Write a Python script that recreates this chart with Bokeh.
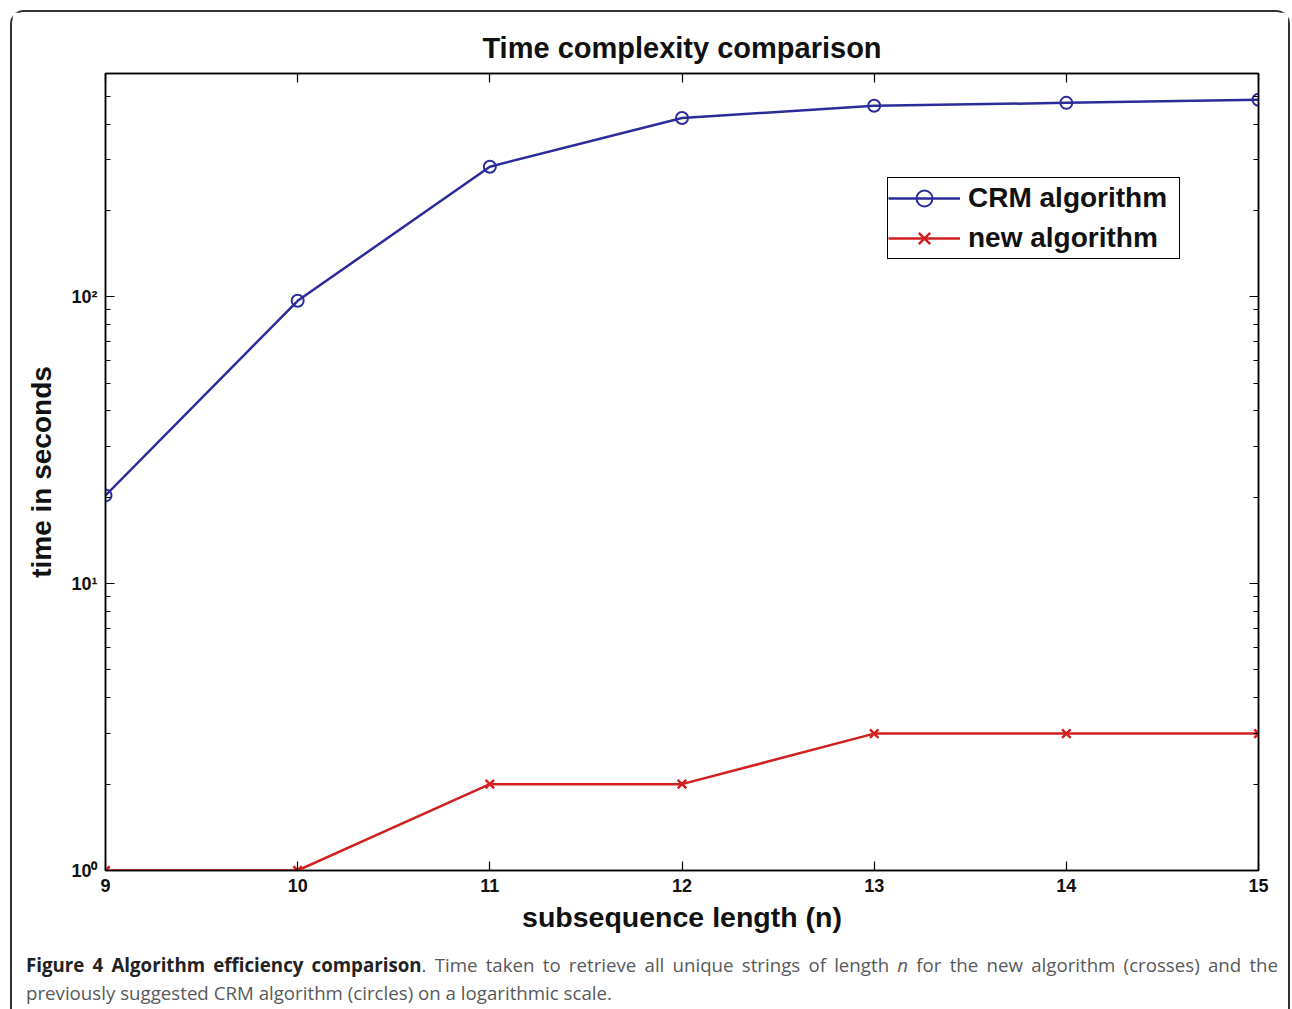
from bokeh.plotting import figure
from bokeh.models import (Range1d, FixedTicker, LogAxis, LinearAxis, CustomJSTickFormatter,
                          Legend, LegendItem, Div)
from bokeh.layouts import column
from bokeh.embed import file_html
from bokeh.resources import INLINE

# ---- data ----
n_values = [9, 10, 11, 12, 13, 14, 15]
crm_times = [20.3, 96.8, 284, 420, 463, 474, 486]
new_times = [1, 1, 2, 2, 3, 3, 3]
x_ticks = [9, 10, 11, 12, 13, 14, 15]
y_major_ticks = [1, 10, 100]
y_minor_ticks = [2, 3, 4, 5, 6, 7, 8, 9, 20, 30, 40, 50, 60, 70, 80, 90, 200, 300, 400, 500, 600]

title_text = "Time complexity comparison"
x_label = "subsequence length (n)"
y_label = "time in seconds"
series_names = ["CRM algorithm", "new algorithm"]
caption_bold = "Figure 4 Algorithm efficiency comparison"
caption_1a = ". Time taken to retrieve all unique strings of length "
caption_1n = "n"
caption_1b = " for the new algorithm (crosses) and the"
caption_2 = "previously suggested CRM algorithm (circles) on a logarithmic scale."

FONT = "Liberation Sans"
BLUE = "#2b2b9a"
RED = "#d02020"

p = figure(width=1276, height=928, x_range=Range1d(9, 15), y_range=Range1d(1, 600),
           y_axis_type="log", output_backend="svg", toolbar_location=None,
           min_border_left=93, min_border_right=30, min_border_top=61, min_border_bottom=70,
           background_fill_color="white", border_fill_color="white")

p.grid.visible = False
p.outline_line_color = "black"
p.outline_line_width = 1.5

p.title.text = title_text
p.title.align = "center"
p.title.text_font = FONT
p.title.text_font_size = "29px"
p.title.text_font_style = "bold"
p.title.text_color = "#111111"
p.title.standoff = 20

fmt = CustomJSTickFormatter(code="""
const e = Math.round(Math.log10(tick));
const sup = ["\u2070", "\u00b9", "\u00b2", "\u00b3"];
return "10" + sup[e];
""")
blank = CustomJSTickFormatter(code="return '';")

def style_axis(ax):
    ax.axis_line_color = "black"
    ax.axis_line_width = 1.5
    ax.major_tick_line_color = "black"
    ax.minor_tick_line_color = "black"
    ax.major_tick_line_width = 1.2
    ax.major_tick_in = 9
    ax.major_tick_out = 0
    ax.minor_tick_in = 5
    ax.minor_tick_out = 0
    ax.major_label_text_font = FONT
    ax.major_label_text_font_size = "18px"
    ax.major_label_text_font_style = "bold"
    ax.major_label_text_color = "#111111"

xa = p.xaxis[0]
xa.ticker = FixedTicker(ticks=x_ticks, minor_ticks=[])
style_axis(xa)
xa.major_label_standoff = 8
xa.axis_label = x_label
xa.axis_label_text_font = FONT
xa.axis_label_text_font_size = "28.5px"
xa.axis_label_text_font_style = "bold"
xa.axis_label_text_color = "#111111"
xa.axis_label_standoff = 6

ya = p.yaxis[0]
ya.ticker = FixedTicker(ticks=y_major_ticks, minor_ticks=y_minor_ticks)
ya.formatter = fmt
style_axis(ya)
ya.major_label_standoff = 8
ya.axis_label = y_label
ya.axis_label_text_font = FONT
ya.axis_label_text_font_size = "28px"
ya.axis_label_text_font_style = "bold"
ya.axis_label_text_color = "#111111"
ya.axis_label_standoff = 11

ra = LogAxis(ticker=FixedTicker(ticks=y_major_ticks, minor_ticks=y_minor_ticks), formatter=blank)
style_axis(ra)
ra.major_label_standoff = 0
p.add_layout(ra, "right")

ta = LinearAxis(ticker=FixedTicker(ticks=x_ticks, minor_ticks=[]), formatter=blank)
style_axis(ta)
ta.major_label_standoff = 0
p.add_layout(ta, "above")

l1 = p.line(n_values, crm_times, line_color=BLUE, line_width=2.5)
s1 = p.scatter(n_values, crm_times, marker="circle", size=12, fill_color=None,
               line_color=BLUE, line_width=2)
l2 = p.line(n_values, new_times, line_color=RED, line_width=2.5)
s2 = p.scatter(n_values, new_times, marker="x", size=12, line_color=RED, line_width=2.5)

legend = Legend(items=[LegendItem(label=series_names[0], renderers=[l1, s1]),
                       LegendItem(label=series_names[1], renderers=[l2, s2])],
                location=(782, 611))
legend.label_text_font = FONT
legend.label_text_font_size = "28px"
legend.label_text_font_style = "bold"
legend.label_text_color = "#111111"
legend.glyph_width = 72
legend.glyph_height = 40
legend.label_height = 40
legend.label_width = 211
legend.label_standoff = 8
legend.padding = 0
legend.spacing = 0
legend.margin = 0
legend.border_line_color = "black"
legend.border_line_alpha = 1.0
legend.border_line_width = 1.5
legend.background_fill_color = "white"
legend.background_fill_alpha = 1.0
p.add_layout(legend)

# caption (justified first line, natural second line)
caption_html = (
    '<div style="font-family: \'Open Sans\', sans-serif; font-size: 18.7px; line-height: 28px; '
    'color: #58595b; padding: 11px 0 0 14px; margin: 0;">'
    '<div style="width: 1252px; text-align: justify; text-align-last: justify; white-space: normal;">'
    f'<b style="color: #222222;">{caption_bold}</b>{caption_1a}<i>{caption_1n}</i>{caption_1b}'
    '</div>'
    f'<div style="white-space: nowrap;">{caption_2}</div>'
    '</div>'
)
cap = Div(text=caption_html, width=1276, height=69, margin=0)

layout = column(p, cap, margin=(10, 0, 0, 10), spacing=0,
                styles={"border": "2px solid #333333", "border-bottom": "none",
                        "border-radius": "14px 14px 0 0"})

open("out.html", "w").write(file_html(layout, INLINE))
